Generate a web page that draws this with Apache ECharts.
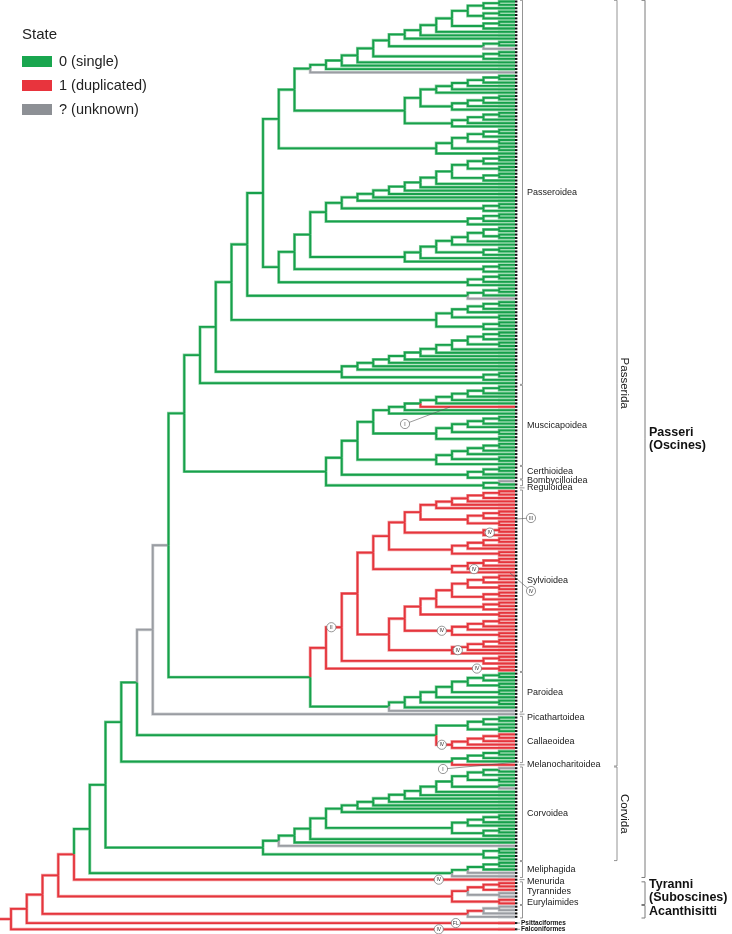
<!DOCTYPE html>
<html>
<head>
<meta charset="utf-8">
<title>Passeriformes – gene duplication state</title>
<script src="https://cdn.jsdelivr.net/npm/echarts@6.0.0/dist/echarts.min.js"></script>
<style>
html,body{margin:0;padding:0;background:#fff;}
#chart{width:732px;height:934px;}
</style>
</head>
<body>
<div id="chart"></div>
<script>
// ======================= DATA =======================
// Topology written top-to-bottom. Leaf tokens: g = 0 (single), r = 1 (duplicated), u = ? (unknown).
// ')G' ')R' ')U' force the state of the branch above a clade (otherwise: shared state of children, else 0).
// '[' ... ']' mark a labelled span, '{T@h}' an event marker on the next branch, '_' extra room before a leaf.
const lad = (...xs) => xs.reduce((a, b) => '(' + a + b + ')');
const c1 = '(gg)', c2 = '((gg)g)', r1 = '(rr)', r2 = '((rr)r)';
const L5 = lad('g', 'g', 'g', 'g', 'g');
const R5 = lad('r', 'r', 'r', 'r', 'r');

// Passeroidea
const pasA = lad(lad(c2, c2), c2, 'g', 'g', 'g', '((gg)u)', c2, 'g', 'g', 'g', 'u');
const pasB = lad(lad(L5, 'g'), L5, L5);
const pasC = lad(c2, c1, c1, 'g');
const pasD = lad(lad(c2, c1), c2, 'g', 'g', 'g', 'g', 'g', 'g', c2);
const pasE = lad(lad(c1, c1), 'g', 'g', c2, 'g', 'g');
const pasF = lad(c2, 'g', c1, c2);
const pasG = lad(lad(c2, c1), 'g', 'g', 'g', 'g', 'g', 'g', 'g', c2);
const passeroidea = lad(lad(lad(pasA, pasB, pasC), lad(pasD, lad(c2, 'g'), pasE, c2, lad(c2, 'g'))),
                       '(((gg)g)u)', pasF, pasG, 'g');
// Muscicapoidea, Certhioidea, Bombycilloidea, Reguloidea
const musA = lad(c1, 'g', 'g', 'g', 'g', 'r', 'g', 'g');
const musB = lad(c2, 'g', c1, c1);
const musC = lad(c2, 'g', c1, 'g');
const certh = lad(c2, 'g');
const muscPlus = lad('[' + musA, musB, musC + ']', '[' + certh + ']', '([(ug)][g])');
// Sylvioidea + Paroidea
const syA = lad(R5, 'r');
const syB = lad(r2, r1);
const syC = lad(r2, 'r', r1);
const sy9 = lad(syA, syB, '{IV@1.6}' + r2, syC, '{IV@2.6}' + R5);
const sy8 = lad(lad(r2, r1), r2, r2, r1, '{IV@4.65}' + lad(r2, 'r', r1), '{IV@3.63}' + R5);
const sylv = '({II@11.66}' + lad(sy9, sy8, r2) + '{IV@2.42}' + r1 + ')';
const paro = lad(lad(c2, c1), c1, 'g', c1, 'g', 'u');
const sylvPar = '([' + sylv + '][' + paro + '])';
// Callaeoidea, Melanocharitoidea, Corvoidea, Meliphagida
const callae = '([' + lad(c2, c1) + '{IV@4.65}' + R5 + ')';
const melano = '((((gg)g)g])[r])';
const corv = lad(lad('(ug)', 'g', c1, '(gu)'), 'g', 'g', 'g', 'g', 'g', 'g', 'g', lad(c2, 'g', c2), 'g', 'g', 'u', lad(c1, c1));
const meliph = lad(c2, 'u', 'u');
// Suboscines, Acanthisitti and outgroups
const tyr = '((((rr)r)(uu))R(rr))R';
const eury = '(((uu)u)Ru)R';

const treeSource =
  '(((((((((((' +
  '([[[' + passeroidea + ']' + muscPlus + ')' + sylvPar + ')U' +
  '[u]' + ')U' +
  callae + ')' +
  melano + ']' + ')' +
  '[[' + corv + ']]' + ')' +
  '[' + meliph + ']]' + ')' +
  '[{IV@4.84}r]' + ')R' +
  '[[' + tyr + ']]' + ')R' +
  '[[' + eury + ']]' + ')R' +
  '_[{FL@3.76}r]' + ')R' +
  '_[{IV@4.84}r]' + ')R';

const spanNames = ['Passeri\n(Oscines)', 'Passerida', 'Passeroidea', 'Muscicapoidea', 'Certhioidea',
  'Bombycilloidea', 'Reguloidea', 'Sylvioidea', 'Paroidea', 'Picathartoidea', 'Callaeoidea',
  'Melanocharitoidea', 'Corvida', 'Corvoidea', 'Meliphagida', 'Menurida', 'Tyranni\n(Suboscines)',
  'Tyrannides', 'Acanthisitti', 'Eurylaimides', 'Psittaciformes', 'Falconiformes'];
const spanKinds = ['big', 'rot', 'small', 'small', 'small', 'small', 'small', 'small', 'small', 'small', 'small',
  'small', 'rot', 'small', 'small', 'small', 'big', 'small', 'big', 'small', 'out', 'out'];

const legendStates = ['0 (single)', '1 (duplicated)', '? (unknown)'];
const leaderNotes = [
  { t: 'I', cx: 405, cy: 424, x2: 450, y2: 407 },
  { t: 'I', cx: 443, cy: 769, x2: 519, y2: 762 },
  { t: 'III', cx: 531, cy: 518, x2: 516, y2: 519 },
  { t: 'IV', cx: 531, cy: 591, x2: 510, y2: 573 }
];

// ======================= STYLE =======================
const FONT = "'Liberation Sans', Arial, Helvetica, sans-serif";
const CORE = ['#17a04b', '#e5353c', '#9a9da2'];
const HALO = ['#8ad3a3', '#f29ea1', '#cfd1d4'];
const TIPC = ['#a8e0ba', '#f6b2b4', '#d4d6d9'];
const LEGC = ['#19a64f', '#e8343d', '#8d9095'];
const BRACKET = '#7a7a7a';
const STEP = 15.75, TIPX = 515, GAP = 0.85;
const spanDy = { Certhioidea: -1.5, Bombycilloidea: -2.5, Picathartoidea: 3, Callaeoidea: 2, Menurida: 1.5,
  Tyrannides: -2, Eurylaimides: -9, 'Tyranni\n(Suboscines)': -2 };

// ======================= PARSE =======================
const CODE = { g: 0, r: 1, u: 2 };
function parseTree(src) {
  let i = 0, pos = 0, gap = 0, pending = null, lastLeaf = 0, spanCount = 0;
  const leaves = [], spans = [], open = [], annots = [];
  function marks() {
    while (i < src.length) {
      const c = src[i];
      if (c === '[') { open.push({ id: spanCount++, y0: null }); i++; }
      else if (c === ']') { const s = open.pop(); s.y1 = lastLeaf; spans[s.id] = s; i++; }
      else if (c === '_') { gap += GAP; i++; }
      else if (c === '{') {
        const j = src.indexOf('}', i);
        const p = src.slice(i + 1, j).split('@');
        pending = { text: p[0], h: +p[1] };
        i = j + 1;
      } else break;
    }
  }
  function elem() {
    marks();
    const ann = pending; pending = null;
    let n;
    if (src[i] === '(') {
      i++;
      const kids = [];
      for (;;) { marks(); if (src[i] === ')') break; kids.push(elem()); }
      i++;
      let col = kids.every(k => k.col === kids[0].col) ? kids[0].col : 'g';
      if (src[i] && 'GRU'.indexOf(src[i]) >= 0) { col = src[i].toLowerCase(); i++; }
      n = { kids, col, h: 1 + Math.max(...kids.map(k => k.h)), y: (kids[0].y + kids[kids.length - 1].y) / 2 };
    } else {
      const c = src[i++];
      pos += gap; gap = 0;
      n = { col: c, h: 0, y: pos };
      open.forEach(s => { if (s.y0 === null) s.y0 = pos; });
      lastLeaf = pos;
      leaves.push(n);
      pos += 1;
    }
    if (ann) { ann.node = n; annots.push(ann); }
    return n;
  }
  const root = elem();
  marks();
  return { root, leaves, spans, annots, last: lastLeaf };
}
const T = parseTree(treeSource);

const edges = [];
(function walk(n) {
  if (!n.kids) return;
  n.kids.forEach(k => { edges.push([n.h, n.y, k.h, k.y, CODE[k.col]]); walk(k); });
})(T.root);
const XMAX = TIPX / STEP;
edges.push([XMAX, T.root.y, T.root.h, T.root.y, CODE[T.root.col]]);

const tipData = T.leaves.map(l => [0, l.y, CODE[l.col]]);
const annData = T.annots.map((a, k) => [a.h, a.node.y, k]);
const spanData = T.spans.map((s, k) => [0, s.y0, s.y1, k]);

// ======================= RENDER =======================
function edgeRender(width, pal) {
  return function (params, api) {
    const hp = api.value(0), yp = api.value(1), hc = api.value(2), yc = api.value(3), k = api.value(4);
    const a = api.coord([hp, yp]), b = api.coord([hp, yc]), c = api.coord([hc, yc]);
    return { type: 'polyline', silent: true, shape: { points: [a, b, c] },
      style: { stroke: pal[k], lineWidth: width, fill: null, lineJoin: 'miter', lineCap: 'butt' } };
  };
}
function tipRender(params, api) {
  const p = api.coord([0, api.value(1)]);
  const q = api.coord([0, api.value(1) + 1]);
  const hs = (q[1] - p[1]) / 2;
  const k = api.value(2);
  return { type: 'group', silent: true, children: [
    { type: 'rect', shape: { x: p[0] - 17, y: p[1] - hs, width: 17, height: hs * 2 }, style: { fill: TIPC[k] } },
    { type: 'rect', shape: { x: p[0], y: p[1] - 1, width: 2.4, height: 2 }, style: { fill: '#111' } }
  ] };
}
function annRender(params, api) {
  const p = api.coord([api.value(0), api.value(1)]);
  const t = T.annots[api.value(2)].text;
  return { type: 'group', silent: true, children: [
    { type: 'circle', shape: { cx: p[0], cy: p[1], r: 4.6 }, style: { fill: '#fff', stroke: '#6a6a6a', lineWidth: 0.7 } },
    { type: 'text', x: p[0], y: p[1] + 0.3, style: { text: t, font: '5px ' + FONT, fill: '#333', align: 'center', verticalAlign: 'middle' } }
  ] };
}
function spanRender(params, api) {
  const y0 = api.coord([0, api.value(1)])[1];
  const y1 = api.coord([0, api.value(2)])[1];
  const k = api.value(3);
  const name = spanNames[k], kind = spanKinds[k];
  const mid = (y0 + y1) / 2 + (spanDy[name] || 0);
  const ch = [];
  const line = (xa, ya, xb, yb, w) => ch.push({ type: 'line', shape: { x1: xa, y1: ya, x2: xb, y2: yb },
    style: { stroke: BRACKET, lineWidth: w || 0.8 } });
  if (kind === 'small') {
    const bx = 522.5;
    if (y1 - y0 < 1) line(519.5, y0, 524.5, y0);
    else { line(bx, y0 - 1.2, bx, y1 + 1.2); line(bx - 2.5, y0 - 1.2, bx, y0 - 1.2); line(bx - 2.5, y1 + 1.2, bx, y1 + 1.2); }
    ch.push({ type: 'text', x: 527, y: mid, style: { text: name, font: '9px ' + FONT, fill: '#1a1a1a', align: 'left', verticalAlign: 'middle' } });
  } else if (kind === 'rot') {
    const bx = 617;
    line(bx, y0 - 1.2, bx, y1 + 1.2); line(bx - 3, y0 - 1.2, bx, y0 - 1.2); line(bx - 3, y1 + 1.2, bx, y1 + 1.2);
    ch.push({ type: 'text', x: 624.5, y: mid, rotation: -Math.PI / 2, style: { text: name, font: '11.5px ' + FONT, fill: '#1a1a1a', align: 'center', verticalAlign: 'middle' } });
  } else if (kind === 'big') {
    const bx = 645;
    line(bx, y0 - 1.2, bx, y1 + 1.2, 1); line(bx - 3.5, y0 - 1.2, bx, y0 - 1.2, 1); line(bx - 3.5, y1 + 1.2, bx, y1 + 1.2, 1);
    ch.push({ type: 'text', x: 649, y: mid, style: { text: name, font: 'bold 12.5px ' + FONT, lineHeight: 13, fill: '#111', align: 'left', verticalAlign: 'middle' } });
  } else {
    line(516.5, y0, 520, y0);
    ch.push({ type: 'text', x: 521, y: y0, style: { text: name, font: 'bold 6.5px ' + FONT, fill: '#111', align: 'left', verticalAlign: 'middle' } });
  }
  return { type: 'group', silent: true, children: ch };
}

// ======================= GRAPHIC (legend + leader notes) =======================
const graphics = [
  { type: 'text', x: 22, y: 35, style: { text: 'State', font: '15px ' + FONT, fill: '#222', verticalAlign: 'middle' } }
];
legendStates.forEach((s, k) => {
  graphics.push({ type: 'rect', shape: { x: 22, y: 56 + 24 * k, width: 30, height: 11 }, style: { fill: LEGC[k] } });
  graphics.push({ type: 'text', x: 59, y: 62 + 24 * k, style: { text: s, font: '14.5px ' + FONT, fill: '#222', verticalAlign: 'middle' } });
});
leaderNotes.forEach(n => {
  graphics.push({ type: 'line', z: 10, shape: { x1: n.cx, y1: n.cy, x2: n.x2, y2: n.y2 }, style: { stroke: '#555', lineWidth: 0.6 } });
  graphics.push({ type: 'circle', z: 11, shape: { cx: n.cx, cy: n.cy, r: 4.6 }, style: { fill: '#fff', stroke: '#6a6a6a', lineWidth: 0.7 } });
  graphics.push({ type: 'text', z: 12, x: n.cx, y: n.cy + 0.3, style: { text: n.t, font: '5px ' + FONT, fill: '#333', align: 'center', verticalAlign: 'middle' } });
});

// ======================= CHART =======================
const chart = echarts.init(document.getElementById('chart'), null, { renderer: 'canvas' });
chart.setOption({
  animation: false,
  backgroundColor: '#fff',
  grid: { left: 0, top: 1.5, width: TIPX, height: 927.8 },
  xAxis: { type: 'value', inverse: true, min: 0, max: XMAX, show: false },
  yAxis: { type: 'value', inverse: true, min: 0, max: T.last, show: false },
  graphic: graphics,
  series: [
    { type: 'custom', name: 'tips', z: 1, clip: false, renderItem: tipRender, data: tipData, encode: { x: 0, y: 1 } },
    { type: 'custom', name: 'halo', z: 2, clip: false, renderItem: edgeRender(3.1, HALO), data: edges, encode: { x: [0, 2], y: [1, 3] } },
    { type: 'custom', name: 'branches', z: 3, clip: false, renderItem: edgeRender(1.8, CORE), data: edges, encode: { x: [0, 2], y: [1, 3] } },
    { type: 'custom', name: 'events', z: 4, clip: false, renderItem: annRender, data: annData, encode: { x: 0, y: 1 } },
    { type: 'custom', name: 'clades', z: 4, clip: false, renderItem: spanRender, data: spanData, encode: { x: 0, y: 1 } }
  ]
});
</script>
</body>
</html>
